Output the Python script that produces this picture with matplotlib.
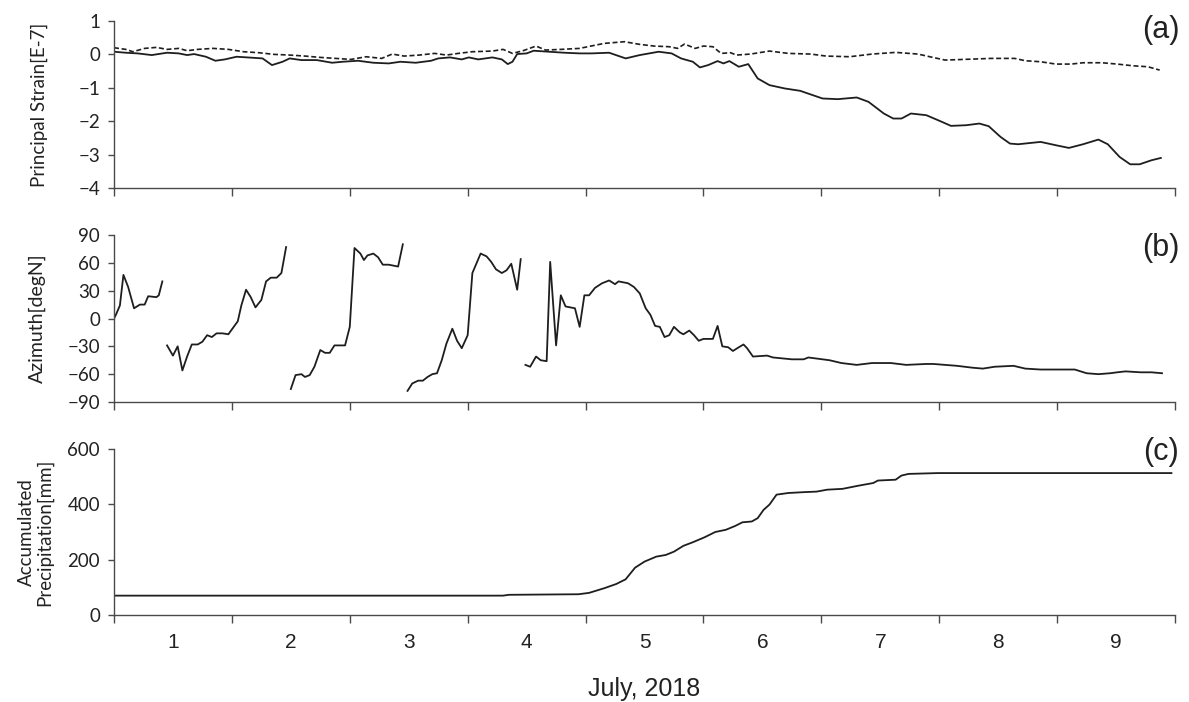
import numpy as np
import matplotlib
matplotlib.use("Agg")
import matplotlib.pyplot as plt

# ---------------- data (x in days since 1 July 2018 00:00) ----------------
strain1_days = [0, 0.1, 0.2, 0.32, 0.45, 0.55, 0.62, 0.68, 0.78, 0.86, 0.94, 1.04, 1.13, 1.26,
                1.34, 1.43, 1.49, 1.59, 1.72, 1.85, 1.94, 2.07, 2.2, 2.33, 2.43, 2.56, 2.69,
                2.75, 2.85, 2.95, 3.01, 3.09, 3.21, 3.29, 3.34, 3.38, 3.42, 3.5, 3.56, 3.69,
                3.82, 3.95, 4.05, 4.2, 4.34, 4.46, 4.62, 4.73, 4.81, 4.91, 4.97, 5.04, 5.12,
                5.17, 5.22, 5.3, 5.38, 5.46, 5.56, 5.69, 5.82, 6.01, 6.14, 6.3, 6.4, 6.53,
                6.61, 6.68, 6.76, 6.89, 6.99, 7.1, 7.23, 7.34, 7.42, 7.52, 7.6, 7.67, 7.86,
                7.99, 8.1, 8.22, 8.35, 8.43, 8.53, 8.62, 8.7, 8.8, 8.88]
strain1_vals = [0.08, 0.05, 0.03, -0.02, 0.05, 0.03, -0.02, 0.01, -0.07, -0.19, -0.15, -0.07,
                -0.09, -0.12, -0.32, -0.22, -0.12, -0.17, -0.17, -0.25, -0.22, -0.19, -0.25,
                -0.27, -0.22, -0.25, -0.19, -0.12, -0.09, -0.15, -0.09, -0.15, -0.09, -0.15,
                -0.29, -0.22, 0.01, 0.03, 0.11, 0.08, 0.05, 0.03, 0.03, 0.05, -0.12, -0.02,
                0.08, 0.03, -0.12, -0.22, -0.39, -0.32, -0.2, -0.27, -0.2, -0.37, -0.29,
                -0.72, -0.92, -1.02, -1.09, -1.32, -1.34, -1.29, -1.42, -1.77, -1.92, -1.92,
                -1.77, -1.82, -1.97, -2.14, -2.12, -2.07, -2.15, -2.47, -2.67, -2.69, -2.62,
                -2.72, -2.8, -2.69, -2.55, -2.69, -3.07, -3.29, -3.29, -3.17, -3.1]

strain2_days = [0, 0.1, 0.16, 0.26, 0.36, 0.45, 0.55, 0.62, 0.71, 0.84, 0.97, 1.1, 1.23, 1.36,
                1.49, 1.62, 1.75, 1.88, 2.01, 2.14, 2.27, 2.36, 2.46, 2.59, 2.72, 2.82, 2.92,
                3.04, 3.21, 3.3, 3.38, 3.47, 3.58, 3.66, 3.79, 3.95, 4.06, 4.16, 4.33, 4.46,
                4.58, 4.71, 4.78, 4.84, 4.93, 5.0, 5.08, 5.15, 5.23, 5.28, 5.4, 5.56, 5.72,
                5.91, 6.04, 6.24, 6.43, 6.63, 6.82, 6.92, 7.05, 7.21, 7.44, 7.64, 7.73, 7.86,
                7.99, 8.12, 8.22, 8.38, 8.51, 8.64, 8.77, 8.87]
strain2_vals = [0.2, 0.15, 0.08, 0.18, 0.21, 0.15, 0.18, 0.11, 0.15, 0.18, 0.15, 0.08, 0.05,
                0.0, -0.02, -0.05, -0.09, -0.12, -0.15, -0.07, -0.12, 0.01, -0.05, -0.02, 0.03,
                -0.02, 0.03, 0.08, 0.1, 0.15, 0.03, 0.11, 0.25, 0.13, 0.15, 0.18, 0.26, 0.33,
                0.38, 0.3, 0.25, 0.23, 0.18, 0.31, 0.18, 0.25, 0.23, 0.03, 0.05, -0.02, 0.01,
                0.1, 0.03, 0.01, -0.05, -0.07, 0.01, 0.06, 0.01, -0.07, -0.17, -0.15, -0.12,
                -0.12, -0.19, -0.22, -0.29, -0.29, -0.25, -0.25, -0.29, -0.34, -0.37, -0.47]

# azimuth: NaN separates the wrapped segments
az_days = [0, 0.016, 0.05, 0.08, 0.12, 0.17, 0.22, 0.26, 0.29, 0.36, 0.38, 0.41, np.nan,
           0.45, 0.5, 0.54, 0.58, 0.62, 0.66, 0.71, 0.75, 0.79, 0.83, 0.87, 0.92, 0.97, 1.01,
           1.05, 1.08, 1.12, 1.16, 1.2, 1.25, 1.29, 1.33, 1.38, 1.42, 1.46, np.nan,
           1.5, 1.54, 1.59, 1.62, 1.66, 1.7, 1.75, 1.79, 1.83, 1.87, 1.91, 1.96, 2.0, 2.04,
           2.09, 2.12, 2.15, 2.2, 2.24, 2.28, 2.33, 2.41, 2.45, np.nan,
           2.49, 2.53, 2.58, 2.62, 2.66, 2.7, 2.74, 2.78, 2.82, 2.87, 2.91, 2.95, 3.0, 3.04,
           3.11, 3.16, 3.2, 3.24, 3.29, 3.33, 3.37, 3.42, 3.45, np.nan,
           3.49, 3.53, 3.58, 3.62, 3.67, 3.7, 3.75, 3.79, 3.83, 3.87, 3.91, 3.95, 3.99, 4.03,
           4.08, 4.14, 4.2, 4.25, 4.28, 4.36, 4.41, 4.46, 4.51, 4.55, 4.59, 4.63, 4.67, 4.71,
           4.75, 4.8, 4.83, 4.88, 4.92, 4.96, 5.0, 5.08, 5.12, 5.16, 5.21, 5.25, 5.3, 5.34,
           5.37, 5.42, 5.54, 5.59, 5.75, 5.85, 5.89, 6.07, 6.17, 6.3, 6.43, 6.59, 6.72, 6.89,
           6.95, 7.15, 7.28, 7.37, 7.47, 7.63, 7.73, 7.86, 8.15, 8.25, 8.35, 8.45, 8.51, 8.58,
           8.71, 8.8, 8.89]
az_vals = [0, 4, 14, 47, 34, 11, 15, 15, 24, 23, 25, 40, np.nan,
           -29, -40, -30, -56, -41, -28, -28, -25, -18, -20, -16, -16, -17, -10,
           -3, 14, 31, 23, 12, 20, 40, 44, 44, 49, 77, np.nan,
           -76, -61, -60, -63, -61, -52, -34, -37, -37, -29, -29, -29, -9, 76,
           70, 63, 68, 70, 66, 58, 58, 56, 80, np.nan,
           -78, -70, -67, -67, -63, -60, -59, -45, -27, -11, -24, -32, -18, 49,
           70, 67, 61, 53, 49, 52, 59, 31, 64, np.nan,
           -50, -52, -41, -45, -46, 61, -29, 25, 13, 12, 11, -9, 25, 25,
           33, 38, 41, 37, 40, 38, 34, 27, 11, 4, -8, -9, -20, -18,
           -9, -15, -17, -13, -18, -24, -22, -22, -8, -30, -31, -35, -31, -28,
           -32, -41, -40, -42, -44, -44, -42, -45, -48, -50, -48, -48, -50, -49,
           -49, -51, -53, -54, -52, -51, -54, -55, -55, -59, -60, -59, -58, -57,
           -58, -58, -59]

rain_days = [0, 3.3, 3.35, 3.94, 4.03, 4.16, 4.26, 4.34, 4.42, 4.5, 4.6, 4.68, 4.75, 4.83,
             4.91, 5.01, 5.1, 5.19, 5.27, 5.33, 5.41, 5.46, 5.51, 5.56, 5.62, 5.72, 5.85,
             5.96, 6.05, 6.18, 6.31, 6.44, 6.48, 6.63, 6.68, 6.74, 6.99, 8.97]
rain_vals = [70, 70, 73, 75, 80, 97, 112, 129, 171, 193, 211, 217, 229, 250, 263, 281, 300,
             308, 322, 335, 338, 350, 380, 399, 435, 441, 444, 446, 453, 456, 467, 477, 486,
             489, 504, 510, 513, 513]

day_labels = ["1", "2", "3", "4", "5", "6", "7", "8", "9"]

# ---------------- figure ----------------
W, H, DPI = 1189, 702, 100
fig = plt.figure(figsize=(W / DPI, H / DPI), dpi=DPI)
fig.patch.set_facecolor("white")

def px_axes(top, bottom, left=114, right=1175):
    return fig.add_axes([left / W, 1 - bottom / H, (right - left) / W, (bottom - top) / H])

ax_a = px_axes(21, 188)
ax_b = px_axes(235, 402)
ax_c = px_axes(449, 615)

LINE = "#1e1e1e"
SPINE = "#4a4a4a"
TXT = "#222222"
YFONT = "Lato"
XFONT = "Liberation Sans"

ax_a.plot(strain1_days, strain1_vals, color=LINE, lw=1.3)
ax_a.plot(strain2_days, strain2_vals, color=LINE, lw=1.2, linestyle=(0, (3, 1.6)))
ax_b.plot(az_days, az_vals, color=LINE, lw=1.3)
ax_c.plot(rain_days, rain_vals, color=LINE, lw=1.3)

ax_a.set_ylim(-4, 1)
ax_a.set_yticks([1, 0, -1, -2, -3, -4])
ax_b.set_ylim(-90, 90)
ax_b.set_yticks(range(-90, 91, 30))
ax_c.set_ylim(0, 600)
ax_c.set_yticks([0, 200, 400, 600])

for ax in (ax_a, ax_b, ax_c):
    ax.set_xlim(0, 9)
    ax.set_xticks(range(0, 10))
    ax.set_xticks(np.arange(0.5, 9, 1), minor=True)
    ax.tick_params(axis="x", which="major", direction="out", length=6, width=1.0,
                   color=SPINE, labelbottom=False)
    ax.tick_params(axis="x", which="minor", length=0, labelbottom=False)
    ax.tick_params(axis="y", direction="out", length=4, width=1.0, color=SPINE,
                   pad=6, labelsize=13.5, labelcolor=TXT)
    for lab in ax.get_yticklabels():
        lab.set_fontfamily(YFONT)
    for s in ("top", "right"):
        ax.spines[s].set_visible(False)
    for s in ("left", "bottom"):
        ax.spines[s].set_color(SPINE)
        ax.spines[s].set_linewidth(1.0)

ax_c.set_xticklabels(day_labels, minor=True)
ax_c.tick_params(axis="x", which="minor", labelbottom=True, pad=13, labelsize=15,
                 labelcolor=TXT)
for lab in ax_c.get_xticklabels(minor=True):
    lab.set_fontfamily(XFONT)

ax_c.set_xlabel("July, 2018", fontsize=18, fontfamily=XFONT, color=TXT, labelpad=18)

ax_a.set_ylabel("Principal Strain[E-7]", fontsize=13.5, fontfamily=YFONT, color=TXT)
ax_b.set_ylabel("Azimuth[degN]", fontsize=14, fontfamily=YFONT, color=TXT)
ax_c.set_ylabel("Accumulated\nPrecipitation[mm]", fontsize=13.5, fontfamily=YFONT,
                color=TXT, linespacing=1.1)
ax_a.yaxis.set_label_coords(-0.062, 0.5)
ax_b.yaxis.set_label_coords(-0.064, 0.5)
ax_c.yaxis.set_label_coords(-0.057, 0.5)

for ax, tag, dy in ((ax_a, "(a)", 0.945), (ax_b, "(b)", 0.92), (ax_c, "(c)", 0.98)):
    ax.text(1.004, dy, tag, transform=ax.transAxes, ha="right", va="center",
            fontsize=22, fontfamily=XFONT, color=TXT)

fig.savefig("out.png", dpi=DPI, facecolor="white")
